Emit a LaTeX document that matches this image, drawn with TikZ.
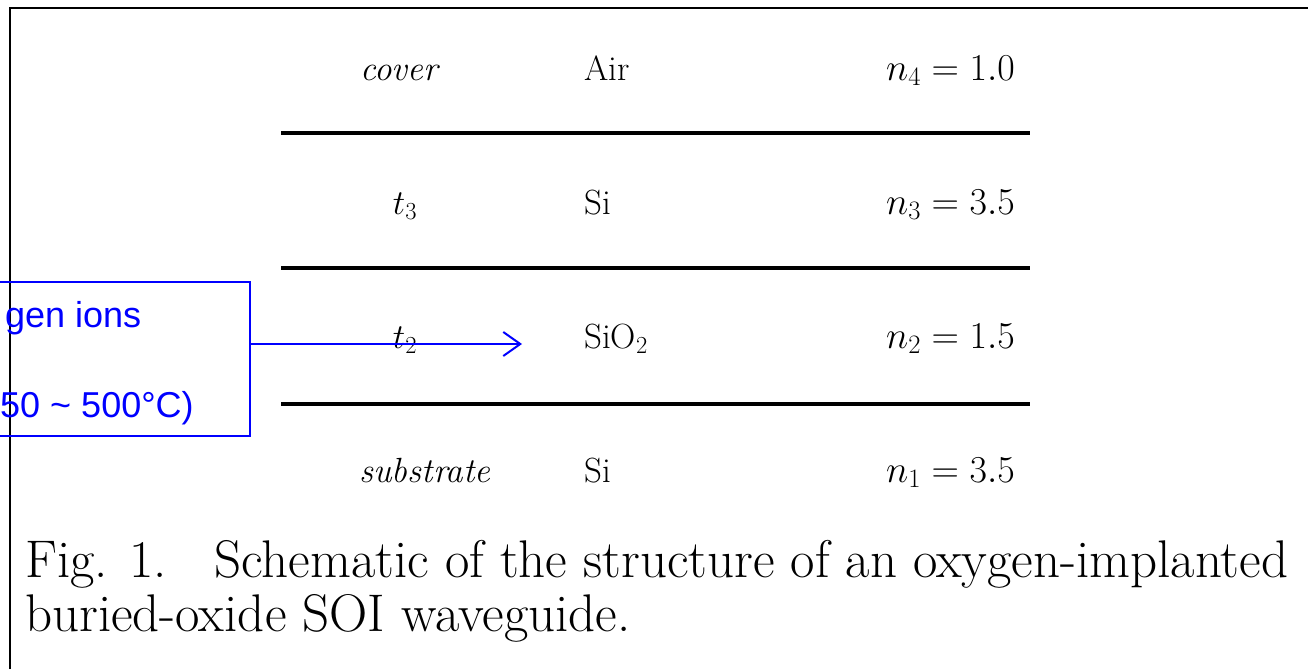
\documentclass[tikz,border=0pt]{standalone}
\usepackage{fix-cm}
\usepackage{fontspec}
\newfontfamily\arialfont{Liberation Sans}
\usetikzlibrary{arrows.meta, positioning}

\begin{document}
\begin{tikzpicture}[
        x=1pt, y=-1pt,
        frame/.style={line width=2pt},
        layer/.style={line width=3.5pt},
        txt/.style={inner sep=0pt, anchor=base, font=\fontsize{35}{42}\selectfont},
        idx/.style={inner sep=0pt, anchor=base east, font=\fontsize{38}{44}\selectfont},
        ionbox/.style={draw=blue, line width=1.5pt, minimum width=262pt, minimum height=154pt, inner sep=0pt},
        bluetxt/.style={inner sep=0pt, anchor=base west, text=blue, font=\arialfont\fontsize{36}{42}\selectfont},
        arrow/.style={-{Straight Barb[length=17pt, width=24pt]}, line width=2pt, blue},
        caption/.style={inner sep=0pt, anchor=base west, font=\fontsize{53}{60}\selectfont}
    ]
    \useasboundingbox (0,0) rectangle (1308,669);
    \clip (0,0) rectangle (1308,669);

    % outer frame
    \draw[frame] (9.5,669) -- (9.5,8) -- (1308,8);

    % layer boundaries
    \draw[layer] (281,133) -- (1030,133);
    \draw[layer] (281,268) -- (1030,268);
    \draw[layer] (281,404) -- (1030,404);

    % rows
    \node[txt] (cover) at (399,80) {\itshape cover};
    \node[txt, anchor=base west] (air) at (584,80) {Air};
    \node[idx] (n4) at (1015,80) {$n_4 = 1.0$};

    \node[txt] (t3) at (405,214) {$t_3$};
    \node[txt, anchor=base west] (si3) at (584,214) {Si};
    \node[idx] (n3) at (1015,214) {$n_3 = 3.5$};

    \node[txt] (t2) at (405,348) {$t_2$};
    \node[txt, anchor=base west] (sio2) at (584,348) {SiO$_2$};
    \node[idx] (n2) at (1015,348) {$n_2 = 1.5$};

    \node[txt] (sub) at (425,482) {\itshape substrate};
    \node[txt, anchor=base west] (si1) at (584,482) {Si};
    \node[idx] (n1) at (1015,482) {$n_1 = 3.5$};

    % implant label
    \node[ionbox] (ions) at (119,359) {};
    \node[bluetxt] (ionsA) at (5,327) {gen ions};
    \node[bluetxt] (ionsB) at (0,417) {50 \textasciitilde{} 500°C)};
    \coordinate (tip) at (522,344);
    \draw[arrow] (ions.east |- tip) -- (tip);

    % caption
    \node[caption] (cap1) at (25,577) {Fig. 1.\hspace{0.9em}Schematic of the structure of an oxygen-implanted};
    \node[caption] (cap2) at (25,631) {buried-oxide SOI waveguide.};
\end{tikzpicture}
\end{document}
